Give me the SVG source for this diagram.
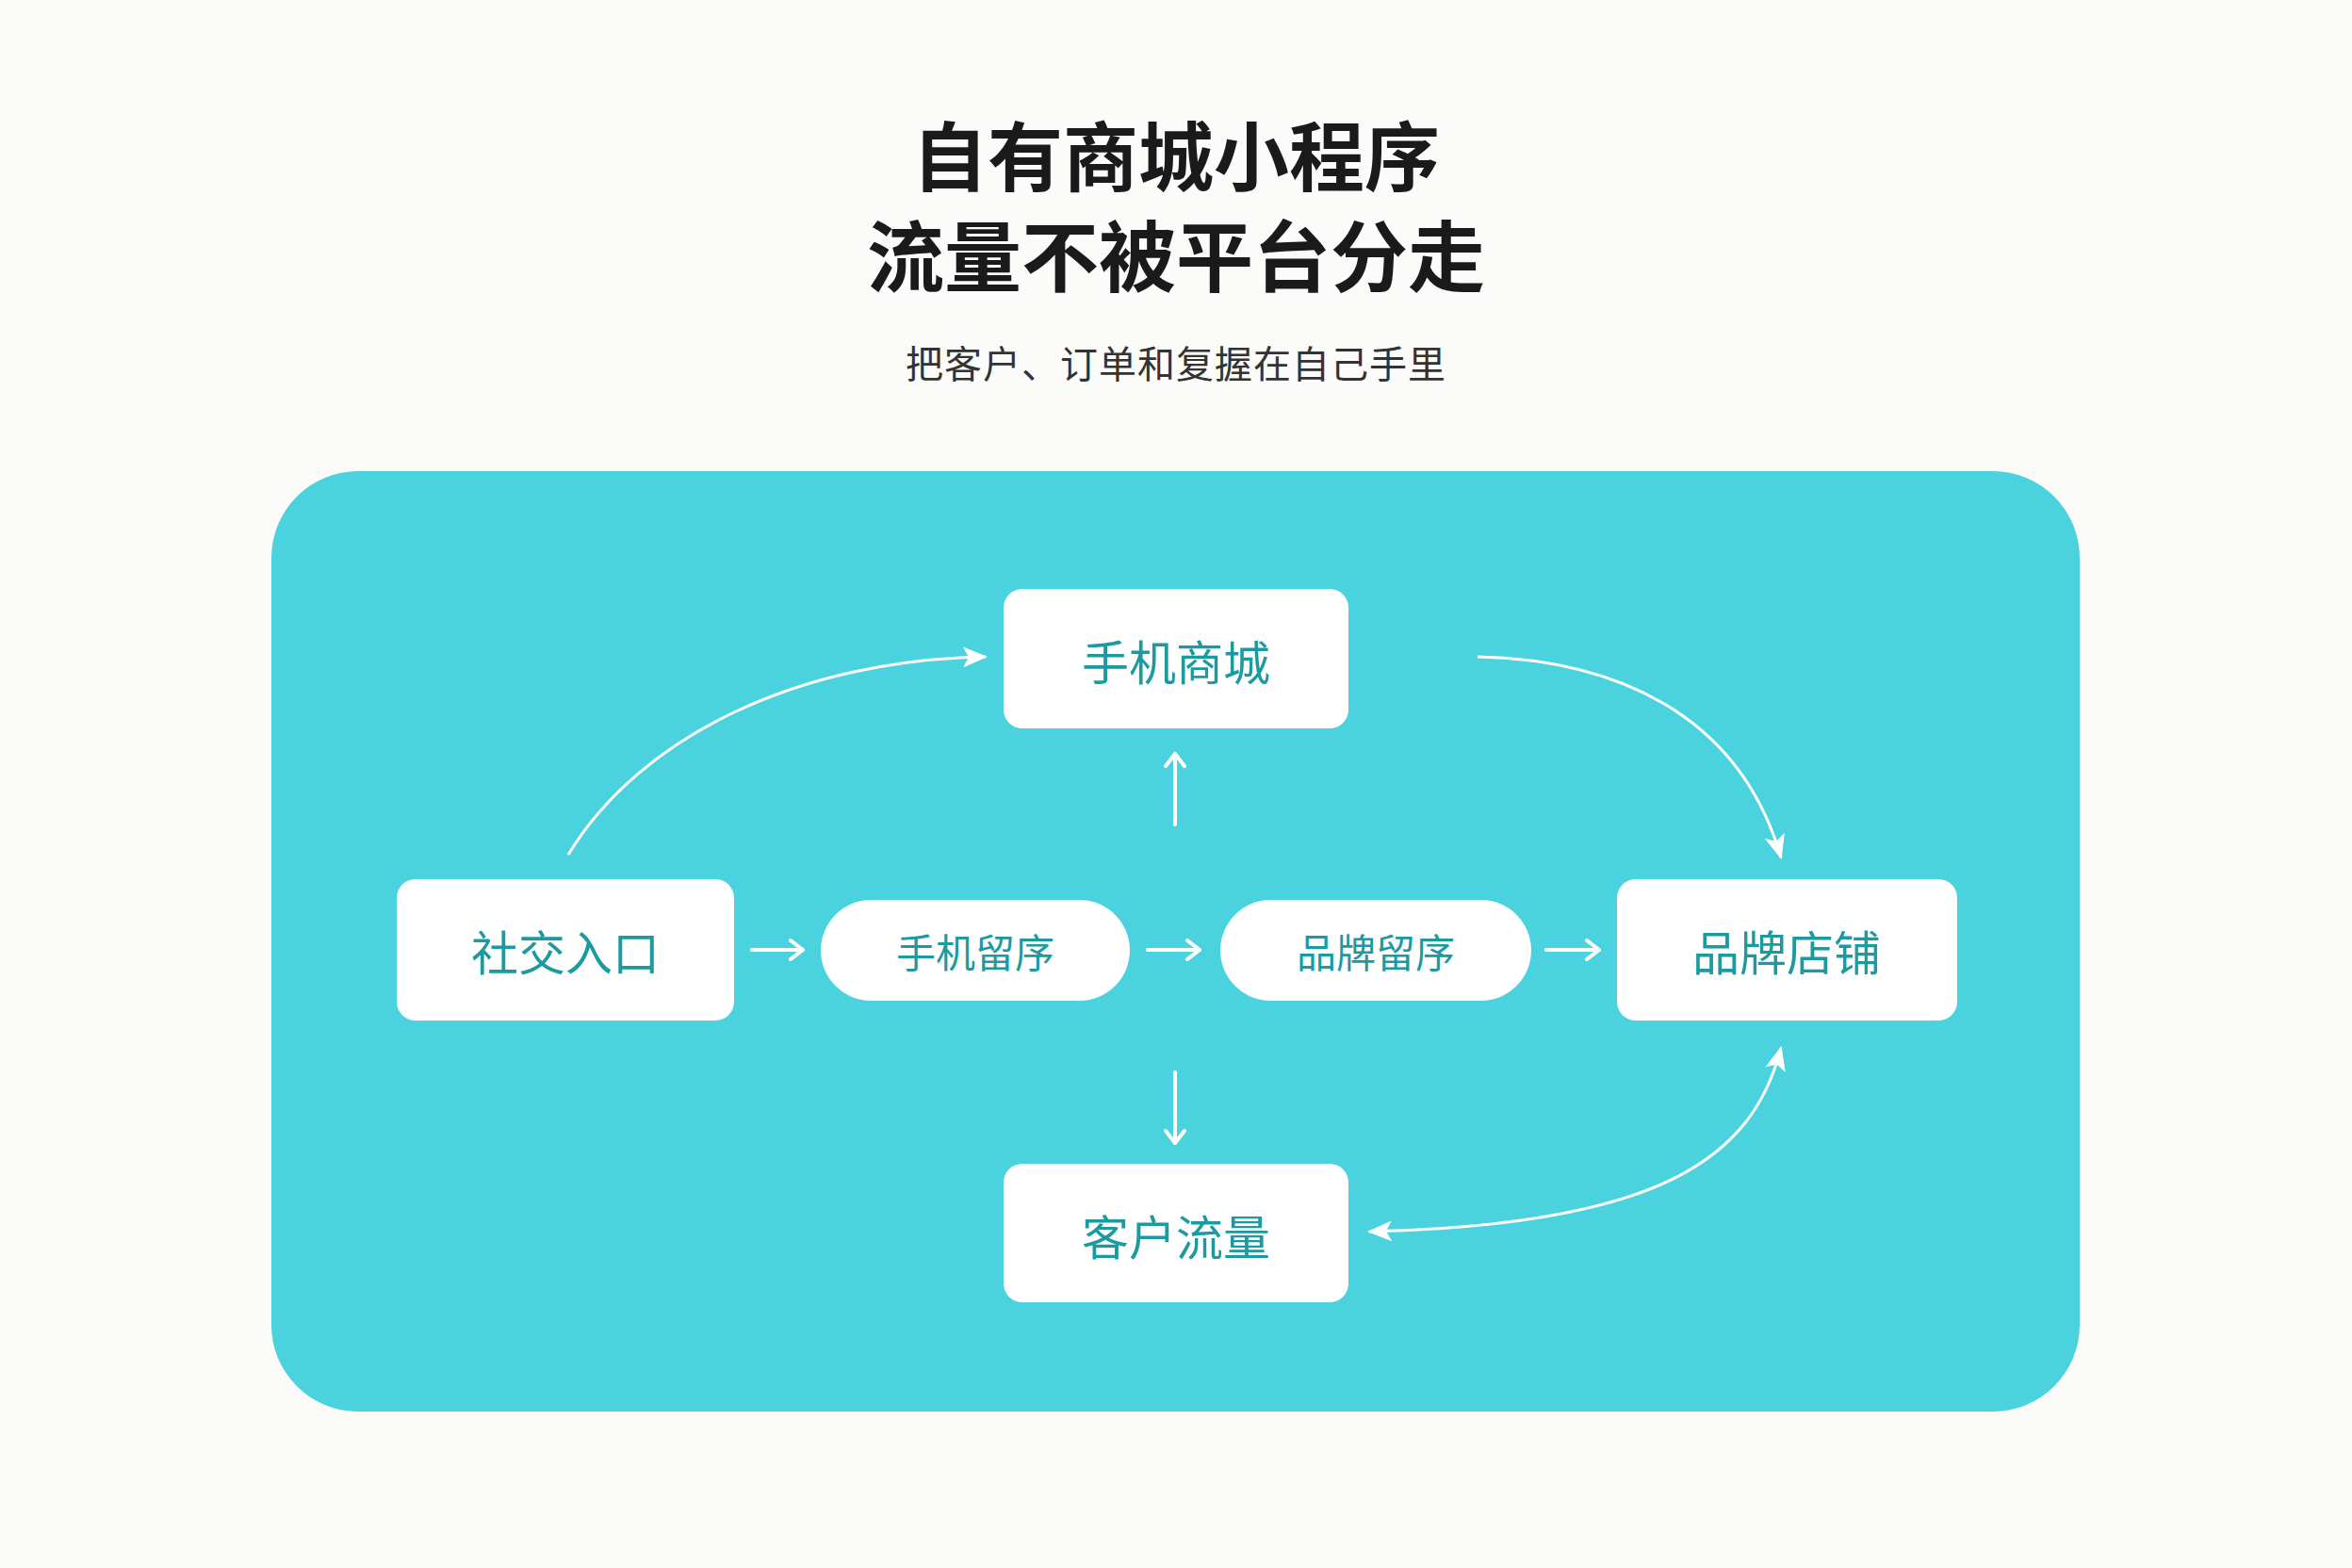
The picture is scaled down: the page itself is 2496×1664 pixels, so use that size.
<svg xmlns="http://www.w3.org/2000/svg" width="2496" height="1664" viewBox="0 0 2496 1664">
<defs>
<style>
.title{font-family:"Noto Sans CJK SC","Noto Sans",sans-serif;font-weight:700;fill:#1a1a1a;text-anchor:middle}
.sub{font-family:"Noto Sans CJK SC","Noto Sans",sans-serif;font-size:40px;fill:#333;text-anchor:middle;letter-spacing:1px}
.box{fill:#ffffff}
.lbl{font-family:"Noto Sans CJK SC","Noto Sans",sans-serif;font-size:50px;fill:#1b9aa0;text-anchor:middle;dominant-baseline:central}
.plbl{font-family:"Noto Sans CJK SC","Noto Sans",sans-serif;font-size:42px;fill:#1b9aa0;text-anchor:middle;dominant-baseline:central}
.curve{fill:none;stroke:#ffffff;stroke-width:3}
.straight{fill:none;stroke:#ffffff;stroke-width:4;stroke-linecap:round}
</style>
<marker id="tri" markerUnits="userSpaceOnUse" markerWidth="26" markerHeight="22" viewBox="0 0 26 22" refX="24" refY="11" orient="auto-start-reverse">
<path d="M0,0 L26,11 L0,22 L6,11 Z" fill="#ffffff"/>
</marker>
<marker id="chev" markerUnits="userSpaceOnUse" markerWidth="20" markerHeight="24" viewBox="0 0 20 24" refX="17" refY="12" orient="auto">
<path d="M4,2 L17,12 L4,22" fill="none" stroke="#ffffff" stroke-width="4" stroke-linecap="round" stroke-linejoin="round"/>
</marker>
</defs>
<rect width="2496" height="1664" fill="#fbfbf9"/>
<g id="title">
<text class="title" x="1248" y="196" font-size="80">自有商城小程序</text>
<text class="title" x="1248" y="303" font-size="82">流量不被平台分走</text>
<text class="sub" x="1248" y="401">把客户、订单和复握在自己手里</text>
</g>
<rect id="panel" x="288" y="500" width="1919" height="998" rx="92" fill="#4ad3de"/>
<g id="connectors">
<path class="curve" d="M603,907 C680,780 850,700 1046,697" marker-end="url(#tri)"/>
<path class="curve" d="M1568,697 C1710,700 1845,755 1890,910" marker-end="url(#tri)"/>
<path class="curve" d="M1890,1112 C1860,1230 1760,1300 1453,1307" marker-start="url(#tri)" marker-end="url(#tri)"/>
<line class="straight" x1="798" y1="1008" x2="852" y2="1008" marker-end="url(#chev)"/>
<line class="straight" x1="1218" y1="1008" x2="1273" y2="1008" marker-end="url(#chev)"/>
<line class="straight" x1="1641" y1="1008" x2="1697" y2="1008" marker-end="url(#chev)"/>
<line class="straight" x1="1247" y1="875" x2="1247" y2="800" marker-end="url(#chev)"/>
<line class="straight" x1="1247" y1="1138" x2="1247" y2="1213" marker-end="url(#chev)"/>
</g>
<g id="node-shouji-shangcheng">
<rect class="box" x="1065" y="625" width="366" height="148" rx="20"/>
<text class="lbl" x="1248" y="700">手机商城</text>
</g>
<g id="node-shejiao">
<rect class="box" x="421" y="933" width="358" height="150" rx="20"/>
<text class="lbl" x="600" y="1008">社交入口</text>
</g>
<g id="node-shouji-liuxu">
<rect class="box" x="871" y="955" width="328" height="107" rx="53.5"/>
<text class="plbl" x="1035" y="1008">手机留序</text>
</g>
<g id="node-pinpai-liuxu">
<rect class="box" x="1295" y="955" width="330" height="107" rx="53.5"/>
<text class="plbl" x="1460" y="1008">品牌留序</text>
</g>
<g id="node-pinpai-dianpu">
<rect class="box" x="1716" y="933" width="361" height="150" rx="20"/>
<text class="lbl" x="1896" y="1008">品牌店铺</text>
</g>
<g id="node-kehu-liuliang">
<rect class="box" x="1065" y="1235" width="366" height="147" rx="20"/>
<text class="lbl" x="1248" y="1310">客户流量</text>
</g>
</svg>
